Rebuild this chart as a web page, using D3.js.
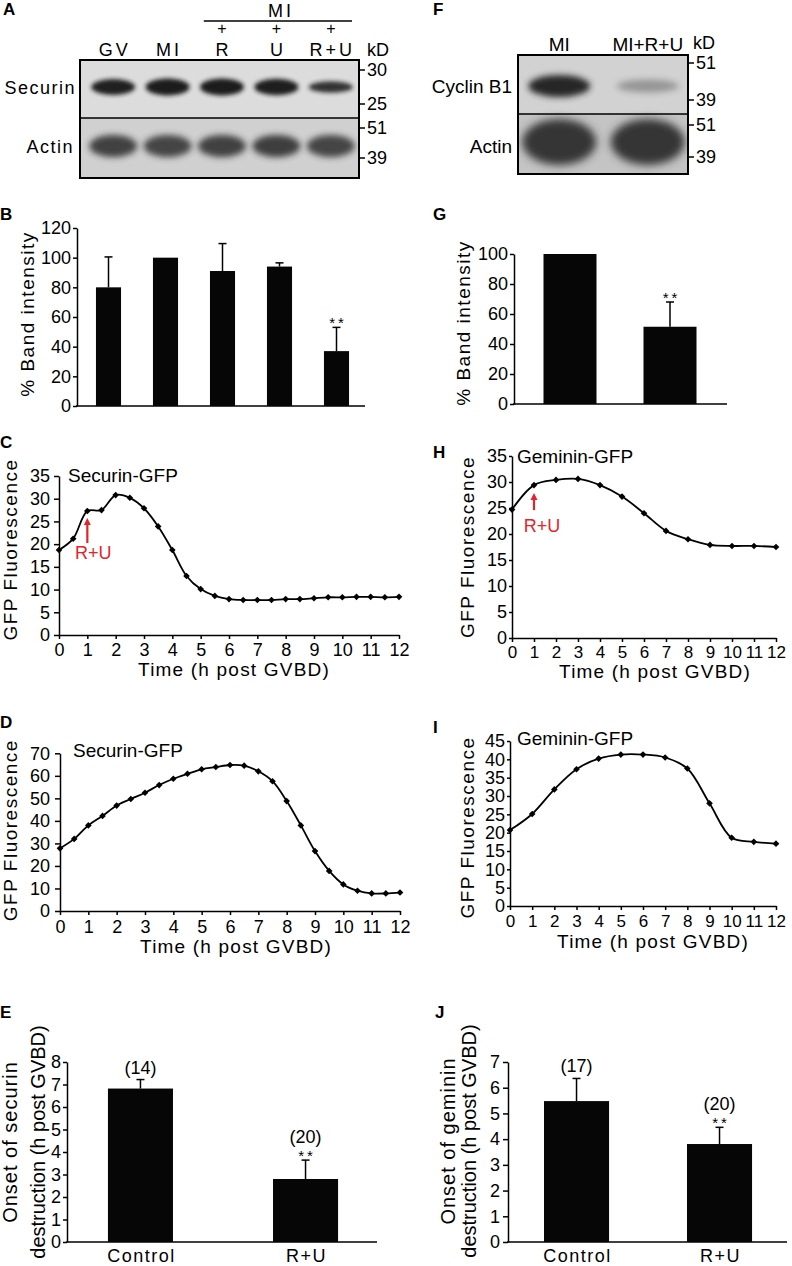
<!DOCTYPE html>
<html><head><meta charset="utf-8">
<script src="https://cdn.jsdelivr.net/npm/d3@7"></script>
<style>
body{margin:0;background:#fff;}
svg{display:block;}
</style></head><body>
<svg id="fig" width="792" height="1266"></svg>
<script>
// ================= DATA =================
const lanesA = ["GV", "MI", "R", "U", "R+U"];
const treatedLanesA = ["R", "U", "R+U"];
const securinBandStrength = [0.9, 1.0, 1.0, 0.95, 0.55];
const actinBandStrengthA = [0.9, 0.88, 0.9, 0.92, 0.88];
const kdSecurin = [30, 25];
const kdActin = [51, 39];
const lanesF = ["MI", "MI+R+U"];
const cyclinBandStrength = [1.0, 0.35];
const actinBandStrengthF = [1.0, 1.0];
const kdCyclin = [51, 39];

const catsB = ["GV", "MI", "R", "U", "R+U"];
const valsB = [80, 100, 91, 94, 37];
const errB = [20.5, 0, 18.5, 2.5, 16];
const sigB = ["", "", "", "", "**"];
const ticksB = [0, 20, 40, 60, 80, 100, 120];

const catsG = ["MI", "MI+R+U"];
const valsG = [100, 51.5];
const errG = [0, 16.5];
const sigG = ["", "**"];
const ticksG = [0, 20, 40, 60, 80, 100];

const timeHalf = [0, 0.5, 1, 1.5, 2, 2.5, 3, 3.5, 4, 4.5, 5, 5.5, 6, 6.5, 7, 7.5, 8, 8.5, 9, 9.5, 10, 10.5, 11, 11.5, 12];
const securinC = [18.7, 21.2, 27.3, 27.5, 30.8, 30.2, 27.9, 23.9, 18.7, 13.0, 10.1, 8.6, 7.9, 7.7, 7.7, 7.7, 7.9, 7.9, 8.1, 8.3, 8.3, 8.4, 8.4, 8.3, 8.4];
const securinD = [27.8, 32.0, 38.0, 42.2, 46.8, 49.7, 52.5, 55.9, 58.7, 60.9, 62.9, 63.9, 64.8, 64.5, 62.0, 57.6, 48.8, 38.0, 26.6, 17.8, 11.8, 9.0, 7.8, 7.8, 8.2];
const timeHour = [0, 1, 2, 3, 4, 5, 6, 7, 8, 9, 10, 11, 12];
const gemininH = [24.7, 29.4, 30.4, 30.6, 29.4, 27.2, 24.0, 20.6, 19.0, 17.9, 17.7, 17.7, 17.5];
const gemininI = [20.7, 25.1, 31.8, 37.3, 40.2, 41.3, 41.3, 40.5, 37.5, 28.0, 18.6, 17.5, 17.0];
const ticksTime = [0, 1, 2, 3, 4, 5, 6, 7, 8, 9, 10, 11, 12];
const ticksC = [0, 5, 10, 15, 20, 25, 30, 35];
const ticksD = [0, 10, 20, 30, 40, 50, 60, 70];
const ticksH = [0, 5, 10, 15, 20, 25, 30, 35];
const ticksI = [0, 5, 10, 15, 20, 25, 30, 35, 40, 45];
const treatmentTime = 1;

const catsE = ["Control", "R+U"];
const valsE = [6.82, 2.80];
const errE = [0.40, 0.84];
const nE = ["(14)", "(20)"];
const sigE = ["", "**"];
const ticksE = [0, 1, 2, 3, 4, 5, 6, 7, 8];

const catsJ = ["Control", "R+U"];
const valsJ = [5.48, 3.81];
const errJ = [0.88, 0.65];
const nJ = ["(17)", "(20)"];
const sigJ = ["", "**"];
const ticksJ = [0, 1, 2, 3, 4, 5, 6, 7];

// ================= HELPERS =================
const svg = d3.select("#fig");
const FF = "Arial, 'Liberation Sans', Helvetica, sans-serif";
const RED = "#e4232b";
const fmtInt = d3.format("d");
svg.append("rect").attr("width", 792).attr("height", 1266).attr("fill", "#fff");

function T(x, y, s, size, o = {}) {
  const t = svg.append("text").attr("x", x).attr("y", y).text(s)
    .attr("font-size", size).attr("font-family", FF).attr("fill", o.fill || "#000")
    .attr("text-anchor", o.anchor || "start");
  if (o.ls) t.style("letter-spacing", o.ls + "px");
  if (o.bold) t.attr("font-weight", "bold");
  if (o.dy) t.attr("dy", o.dy);
  if (o.rot) t.attr("transform", `rotate(-90,${x},${y})`);
  return t;
}
function styleAxis(sel, size) {
  sel.attr("font-family", FF).attr("font-size", size);
  sel.select(".domain").attr("stroke", "#000").attr("stroke-width", 1.5);
  sel.selectAll(".tick line").attr("stroke", "#000").attr("stroke-width", 1.5);
  sel.selectAll(".tick text").attr("fill", "#000");
}

const defs = svg.append("defs");
[["b2", 2.2], ["b3", 3], ["b4", 4.5]].forEach(([id, s]) => {
  defs.append("filter").attr("id", id).attr("x", "-60%").attr("y", "-150%")
    .attr("width", "220%").attr("height", "400%")
    .append("feGaussianBlur").attr("stdDeviation", s);
});

// ================= PANEL A (blot) =================
(function () {
  const box = { x0: 80, x1: 359, y0: 60, ym: 118, y1: 178 };
  const x = d3.scaleBand().domain(lanesA).range([86, 358]);
  const bw = x.bandwidth();
  defs.append("clipPath").attr("id", "clipA").append("rect")
    .attr("x", box.x0).attr("y", box.y0).attr("width", box.x1 - box.x0).attr("height", box.y1 - box.y0);
  const g = svg.append("g").attr("clip-path", "url(#clipA)");
  g.append("rect").attr("x", box.x0).attr("y", box.y0).attr("width", box.x1 - box.x0).attr("height", box.ym - box.y0).attr("fill", "#dcdcdc");
  g.append("rect").attr("x", box.x0).attr("y", box.ym).attr("width", box.x1 - box.x0).attr("height", box.y1 - box.ym).attr("fill", "#d0d0d0");
  g.selectAll(".sec").data(lanesA).join("ellipse")
    .attr("cx", d => x(d) + bw / 2).attr("cy", 87)
    .attr("rx", 22).attr("ry", (d, i) => 2.5 + 6 * securinBandStrength[i])
    .attr("fill", "#1c1c1c").attr("opacity", (d, i) => 0.75 + 0.25 * securinBandStrength[i])
    .attr("filter", "url(#b2)");
  g.selectAll(".act").data(lanesA).join("ellipse")
    .attr("cx", d => x(d) + bw / 2).attr("cy", 146)
    .attr("rx", 24).attr("ry", 11)
    .attr("fill", "#303030").attr("opacity", (d, i) => actinBandStrengthA[i])
    .attr("filter", "url(#b3)");
  svg.append("rect").attr("x", box.x0).attr("y", box.y0).attr("width", box.x1 - box.x0).attr("height", box.y1 - box.y0)
    .attr("fill", "none").attr("stroke", "#000").attr("stroke-width", 2);
  svg.append("line").attr("x1", box.x0).attr("x2", box.x1).attr("y1", box.ym).attr("y2", box.ym).attr("stroke", "#000").attr("stroke-width", 1.5);

  lanesA.forEach(l => T(x(l) + bw / 2 + 1.5, 56, l, 18, { anchor: "middle", ls: 3 }));
  const hx1 = x(treatedLanesA[0]) + 9, hx2 = x(treatedLanesA[treatedLanesA.length - 1]) + bw - 6;
  svg.append("line").attr("x1", hx1).attr("x2", hx2).attr("y1", 21).attr("y2", 21).attr("stroke", "#000").attr("stroke-width", 1.5);
  T((hx1 + hx2) / 2 + 3, 17, "MI", 18, { anchor: "middle", ls: 3 });
  treatedLanesA.forEach(l => T(x(l) + bw / 2, 34, "+", 16, { anchor: "middle" }));

  T(76, 94, "Securin", 18, { anchor: "end", ls: 1.5 });
  T(74, 153, "Actin", 18, { anchor: "end", ls: 1.5 });
  T(367, 56, "kD", 18);
  const ks = d3.scaleLog().domain(kdSecurin).range([70, 104]);
  const ka = d3.scaleLog().domain(kdActin).range([128, 158]);
  [[kdSecurin, ks], [kdActin, ka]].forEach(([arr, sc]) => arr.forEach(k => {
    svg.append("line").attr("x1", box.x1).attr("x2", box.x1 + 6).attr("y1", sc(k)).attr("y2", sc(k)).attr("stroke", "#000").attr("stroke-width", 1.5);
    T(box.x1 + 8, sc(k), k, 18, { dy: "0.36em" });
  }));
  T(3, 15, "A", 17, { bold: true });
})();

// ================= PANEL F (blot) =================
(function () {
  const box = { x0: 518, x1: 688, y0: 55, ym: 114, y1: 174 };
  const x = d3.scaleBand().domain(lanesF).range([515, 692]);
  const bw = x.bandwidth();
  defs.append("clipPath").attr("id", "clipF").append("rect")
    .attr("x", box.x0).attr("y", box.y0).attr("width", box.x1 - box.x0).attr("height", box.y1 - box.y0);
  const g = svg.append("g").attr("clip-path", "url(#clipF)");
  g.append("rect").attr("x", box.x0).attr("y", box.y0).attr("width", box.x1 - box.x0).attr("height", box.ym - box.y0).attr("fill", "#d2d2d2");
  g.append("rect").attr("x", box.x0).attr("y", box.ym).attr("width", box.x1 - box.x0).attr("height", box.y1 - box.ym).attr("fill", "#c4c4c4");
  g.selectAll(".cyc").data(lanesF).join("ellipse")
    .attr("cx", d => x(d) + bw / 2).attr("cy", 86)
    .attr("rx", 31).attr("ry", (d, i) => 4 + 7 * cyclinBandStrength[i])
    .attr("fill", "#262626").attr("opacity", (d, i) => cyclinBandStrength[i])
    .attr("filter", "url(#b3)");
  g.selectAll(".act").data(lanesF).join("ellipse")
    .attr("cx", d => x(d) + bw / 2).attr("cy", 142)
    .attr("rx", 37).attr("ry", 23)
    .attr("fill", "#353535").attr("opacity", (d, i) => actinBandStrengthF[i])
    .attr("filter", "url(#b4)");
  svg.append("rect").attr("x", box.x0).attr("y", box.y0).attr("width", box.x1 - box.x0).attr("height", box.y1 - box.y0)
    .attr("fill", "none").attr("stroke", "#000").attr("stroke-width", 2);
  svg.append("line").attr("x1", box.x0).attr("x2", box.x1).attr("y1", box.ym).attr("y2", box.ym).attr("stroke", "#000").attr("stroke-width", 1.5);
  lanesF.forEach(l => T(x(l) + bw / 2, 51, l, 19, { anchor: "middle" }));
  T(512, 93, "Cyclin B1", 19, { anchor: "end" });
  T(512, 153, "Actin", 19, { anchor: "end" });
  T(693, 49, "kD", 18);
  const kc = d3.scaleLog().domain(kdCyclin).range([63, 100]);
  const ka = d3.scaleLog().domain(kdActin).range([125, 157]);
  [[kdCyclin, kc], [kdActin, ka]].forEach(([arr, sc]) => arr.forEach(k => {
    svg.append("line").attr("x1", box.x1).attr("x2", box.x1 + 6).attr("y1", sc(k)).attr("y2", sc(k)).attr("stroke", "#000").attr("stroke-width", 1.5);
    T(box.x1 + 8, sc(k), k, 18, { dy: "0.36em" });
  }));
  T(433, 15, "F", 17, { bold: true });
})();

// ================= BAR CHART helper =================
function barChart(c) {
  const x = d3.scaleBand().domain(c.cats).range(c.xr).paddingInner(c.pi).paddingOuter(c.po);
  const y = d3.scaleLinear().domain([0, c.ymax]).range(c.yr);
  const ya = svg.append("g").attr("transform", `translate(${c.axisX},0)`)
    .call(d3.axisLeft(y).tickValues(c.ticks).tickFormat(fmtInt).tickSize(c.tick).tickSizeOuter(0).tickPadding(c.pad));
  styleAxis(ya, c.fs);
  svg.append("line").attr("x1", c.axisX - 1).attr("x2", c.axisEnd).attr("y1", y(0)).attr("y2", y(0))
    .attr("stroke", "#000").attr("stroke-width", 1.5);
  svg.selectAll(null).data(c.cats).join("rect")
    .attr("x", d => x(d)).attr("width", x.bandwidth())
    .attr("y", (d, i) => y(c.vals[i])).attr("height", (d, i) => y(0) - y(c.vals[i]))
    .attr("fill", "#060606");
  c.cats.forEach((d, i) => {
    const cx = x(d) + x.bandwidth() / 2;
    const top = y(c.vals[i] + c.errs[i]);
    if (c.errs[i]) {
      svg.append("line").attr("x1", cx).attr("x2", cx).attr("y1", y(c.vals[i])).attr("y2", top).attr("stroke", "#000").attr("stroke-width", 1.5);
      svg.append("line").attr("x1", cx - 4).attr("x2", cx + 4).attr("y1", top).attr("y2", top).attr("stroke", "#000").attr("stroke-width", 1.5);
    }
    if (c.sig && c.sig[i]) T(cx + 1.5, top + 1, c.sig[i], 15, { anchor: "middle", ls: 3 });
    if (c.n) T(cx, top - (c.sig && c.sig[i] ? 17 : 6), c.n[i], 18, { anchor: "middle" });
    if (c.xlab) T(cx + 1, c.xlabY, d, 18, { anchor: "middle", ls: 1.5 });
  });
  return { x, y };
}

// B
barChart({ cats: catsB, vals: valsB, errs: errB, sig: sigB, ticks: ticksB, ymax: 120,
  xr: [80, 365], pi: 0.56, po: 0.28, yr: [406, 228], axisX: 77, axisEnd: 365, tick: 4, pad: 2, fs: 18 });
T(34, 314, "% Band intensity", 19, { anchor: "middle", rot: true, ls: 1.5 });
T(0, 220, "B", 17, { bold: true });

// G
barChart({ cats: catsG, vals: valsG, errs: errG, sig: sigG, ticks: ticksG, ymax: 100,
  xr: [520, 720], pi: 0.47, po: 0.235, yr: [404, 254], axisX: 514, axisEnd: 727, tick: 4, pad: 2, fs: 18 });
T(470, 323, "% Band intensity", 19, { anchor: "middle", rot: true, ls: 1.5 });
T(433, 220, "G", 17, { bold: true });

// E
barChart({ cats: catsE, vals: valsE, errs: errE, sig: sigE, n: nE, ticks: ticksE, ymax: 8,
  xr: [67, 379], pi: 0.606, po: 0.248, yr: [1242, 1062], axisX: 67, axisEnd: 377, tick: 4, pad: 2, fs: 18,
  xlab: true, xlabY: 1262 });
T(17, 1142, "Onset of securin", 20, { anchor: "middle", rot: true, ls: 1 });
T(45, 1142, "destruction (h post GVBD)", 20, { anchor: "middle", rot: true });
T(0, 1018, "E", 17, { bold: true });

// J
barChart({ cats: catsJ, vals: valsJ, errs: errJ, sig: sigJ, n: nJ, ticks: ticksJ, ymax: 7,
  xr: [508.25, 787.8], pi: 0.545, po: 0.25, yr: [1242, 1062], axisX: 508, axisEnd: 787, tick: 5, pad: 3, fs: 18,
  xlab: true, xlabY: 1262 });
T(455, 1141, "Onset of geminin", 20, { anchor: "middle", rot: true, ls: 1 });
T(476, 1141, "destruction (h post GVBD)", 20, { anchor: "middle", rot: true });
T(435, 1018, "J", 17, { bold: true });

// ================= LINE CHART helper =================
function lineChart(c) {
  const x = d3.scaleLinear().domain([0, 12]).range(c.xr);
  const y = d3.scaleLinear().domain([0, c.ymax]).range(c.yr);
  const ya = svg.append("g").attr("transform", `translate(${c.xr[0]},0)`)
    .call(d3.axisLeft(y).tickValues(c.yTicks).tickFormat(fmtInt).tickSize(c.ytick).tickSizeOuter(0).tickPadding(c.ypad));
  styleAxis(ya, 18);
  const xa = svg.append("g").attr("transform", `translate(0,${c.yr[0]})`)
    .call(d3.axisBottom(x).tickValues(ticksTime).tickFormat(fmtInt).tickSize(4).tickSizeOuter(0).tickPadding(c.xpad));
  styleAxis(xa, c.xfs);
  const pts = c.times.map((t, i) => [t, c.vals[i]]);
  svg.append("path").datum(pts)
    .attr("d", d3.line().x(d => x(d[0])).y(d => y(d[1])).curve(d3.curveCatmullRom.alpha(0.5)))
    .attr("fill", "none").attr("stroke", "#000").attr("stroke-width", 1.8);
  svg.selectAll(null).data(pts).join("path")
    .attr("d", d3.symbol(d3.symbolSquare, 22)())
    .attr("transform", d => `translate(${x(d[0])},${y(d[1])}) rotate(45)`)
    .attr("fill", "#000");
  T(c.title[0], c.title[1], c.titleText, 19);
  T(c.xr[0] - c.ylabOff, (c.yr[0] + c.yr[1]) / 2 + c.ylabDy, "GFP Fluorescence", 19, { anchor: "middle", rot: true, ls: 1.5 });
  T(c.timeX, c.yr[0] + c.timeDy, "Time (h post GVBD)", 19, { anchor: "middle", ls: 1.2 });
  if (c.arrow) {
    const ax = x(treatmentTime);
    const iv = c.times.indexOf(treatmentTime);
    const tip = y(c.vals[iv]) + c.arrow[0], base = y(c.vals[iv]) + c.arrow[1];
    svg.append("line").attr("x1", ax).attr("x2", ax).attr("y1", base).attr("y2", tip + 5).attr("stroke", RED).attr("stroke-width", 2.2);
    svg.append("path").attr("d", `M${ax},${tip} L${ax - 3.5},${tip + 7} L${ax + 3.5},${tip + 7} Z`).attr("fill", RED);
    T(ax + c.arrow[2], base + c.arrow[3], "R+U", 18, { anchor: "middle", fill: RED });
  }
  return { x, y };
}

// C
lineChart({ times: timeHalf, vals: securinC, ymax: 35, yTicks: ticksC, xr: [59, 399], yr: [635, 476],
  ytick: 5, ypad: 4, xpad: 4, xfs: 18, title: [68, 482], titleText: "Securin-GFP",
  ylabOff: 42, ylabDy: -6, timeX: 234, timeDy: 41, arrow: [7, 32, 6, 16] });
T(0, 448, "C", 17, { bold: true });

// H
lineChart({ times: timeHour, vals: gemininH, ymax: 35, yTicks: ticksH, xr: [512, 776], yr: [638, 456],
  ytick: 3, ypad: 2, xpad: 4, xfs: 17, title: [517, 463], titleText: "Geminin-GFP",
  ylabOff: 38, ylabDy: 0, timeX: 655, timeDy: 40, arrow: [8, 25, 8, 22] });
T(433, 458, "H", 17, { bold: true });

// D
lineChart({ times: timeHalf, vals: securinD, ymax: 70, yTicks: ticksD, xr: [60, 400], yr: [911, 753.3],
  ytick: 5, ypad: 5, xpad: 5, xfs: 18, title: [73, 757], titleText: "Securin-GFP",
  ylabOff: 43, ylabDy: -2, timeX: 236, timeDy: 42 });
T(0, 728, "D", 17, { bold: true });

// I
lineChart({ times: timeHour, vals: gemininI, ymax: 45, yTicks: ticksI, xr: [510, 776], yr: [906, 741],
  ytick: 3, ypad: 2, xpad: 5, xfs: 17, title: [517, 745], titleText: "Geminin-GFP",
  ylabOff: 36, ylabDy: 4, timeX: 653, timeDy: 42 });
T(433, 733, "I", 17, { bold: true });
</script>
</body></html>
